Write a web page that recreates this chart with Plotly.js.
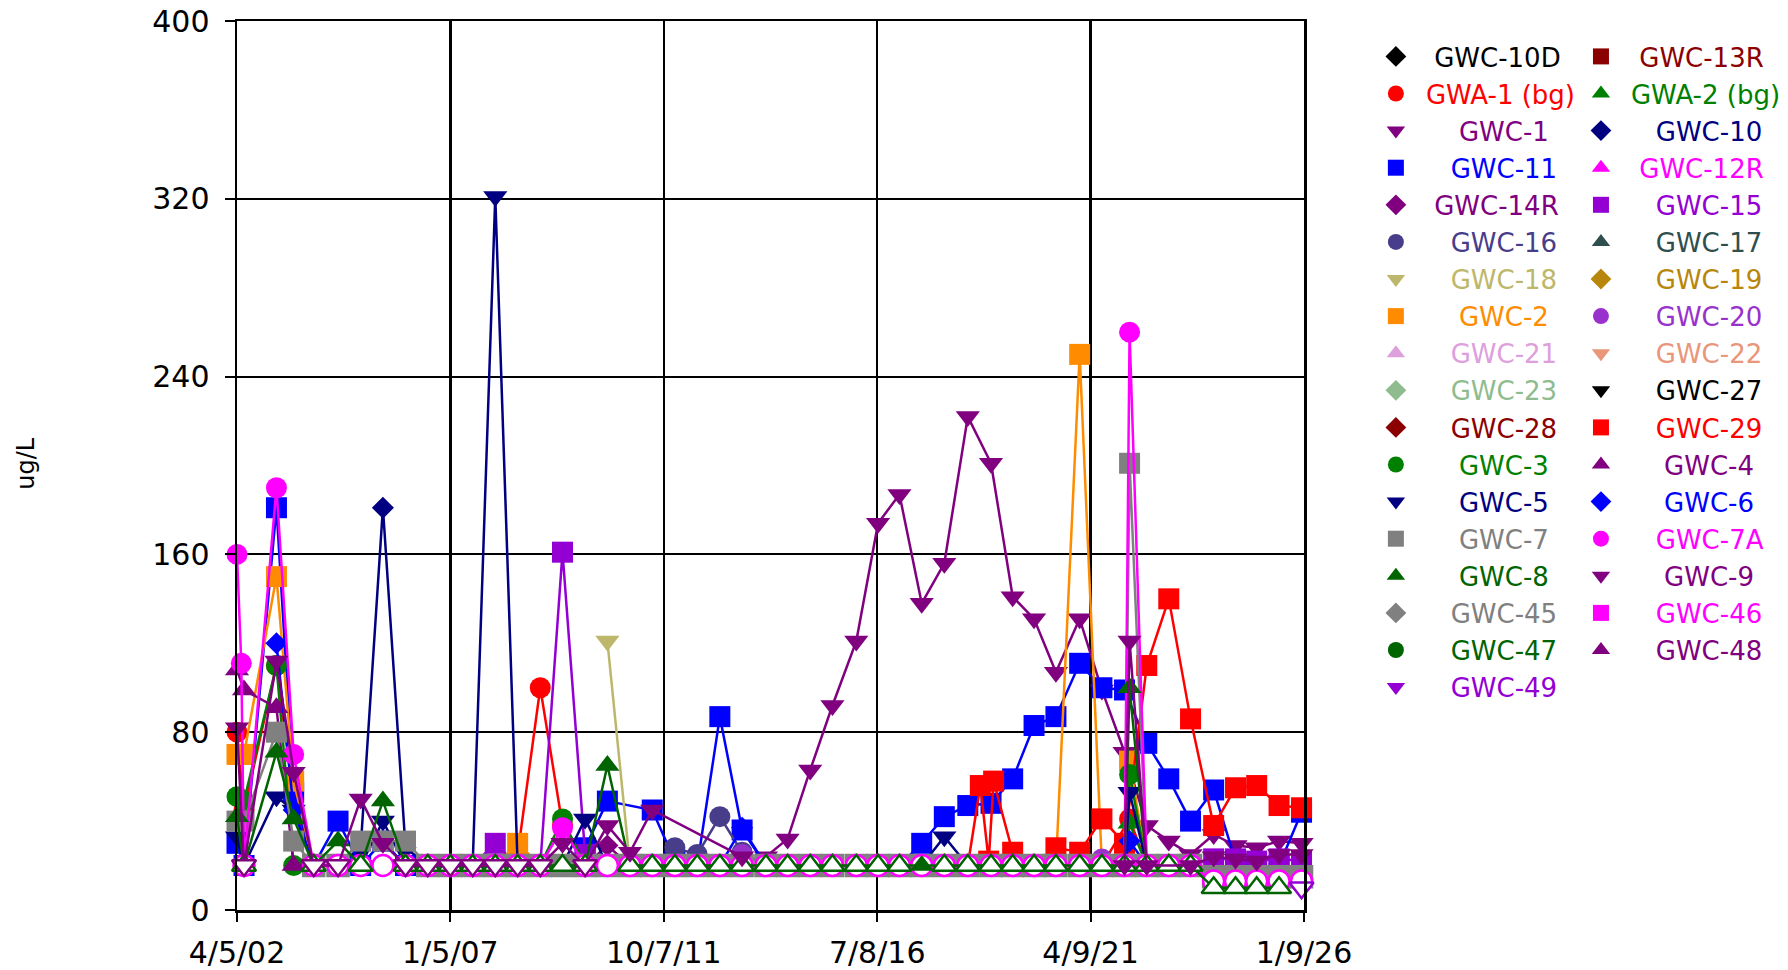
<!DOCTYPE html>
<html>
<head>
<meta charset="utf-8">
<script src="https://cdn.plot.ly/plotly-3.0.1.min.js"></script>
<style>html,body{margin:0;padding:0;background:#fff}#chart{width:1788px;height:970px}</style>
</head>
<body>
<div id="chart"></div>
<script>
// ---------------- axis / category data ----------------
const X_START = '2002-04-05';
const X_END = '2026-01-09';
const TICK_DATES = ['2002-04-05','2007-01-05','2011-10-07','2016-07-08','2021-04-09','2026-01-09'];
const TICK_LABELS = ['4/5/02','1/5/07','10/7/11','7/8/16','4/9/21','1/9/26'];
const Y_TICKS = [0, 80, 160, 240, 320, 400];

// series names (legend order, row by row), colours, marker symbols
const NAMES = ['GWC-10D','GWC-13R','GWA-1 (bg)','GWA-2 (bg)','GWC-1','GWC-10','GWC-11','GWC-12R','GWC-14R','GWC-15',
  'GWC-16','GWC-17','GWC-18','GWC-19','GWC-2','GWC-20','GWC-21','GWC-22','GWC-23','GWC-27','GWC-28','GWC-29',
  'GWC-3','GWC-4','GWC-5','GWC-6','GWC-7','GWC-7A','GWC-8','GWC-9','GWC-45','GWC-46','GWC-47','GWC-48','GWC-49'];
const COLORS = ['#000000','#8B0000','#FF0000','#008000','#800080','#000080','#0000FF','#FF00FF','#800080','#9400D3',
  '#483D8B','#2F4F4F','#BDB76B','#B8860B','#FF8C00','#9932CC','#DDA0DD','#E9967A','#8FBC8F','#000000','#8B0000','#FF0000',
  '#008000','#800080','#000080','#0000FF','#808080','#FF00FF','#006400','#800080','#808080','#FF00FF','#006400','#800080','#9400D3'];
const SYMBOLS = ['diamond','square','circle','triangle-up','triangle-down','diamond','square','triangle-up','diamond','square',
  'circle','triangle-up','triangle-down','diamond','square','circle','triangle-up','triangle-down','diamond','triangle-down','diamond','square',
  'circle','triangle-up','triangle-down','diamond','square','circle','triangle-up','triangle-down','diamond','square','circle','triangle-up','triangle-down'];

// sampling dates used by the non-detect (reporting-limit) arrays below
const GRID = ['2002-04-05','2002-06-01','2003-02-20','2003-07-10','2003-12-20','2004-07-05','2005-01-05','2005-07-05','2006-01-05','2006-07-05',
  '2007-01-05','2007-07-05','2008-01-05','2008-07-05','2009-01-05','2009-07-05','2010-01-05','2010-07-05','2011-01-05','2011-07-05',
  '2012-01-05','2012-07-05','2013-01-05','2013-07-05','2014-01-15','2014-07-10','2015-01-10','2015-07-10','2016-01-20','2016-07-15',
  '2017-01-05','2017-07-05','2018-01-05','2018-07-15','2019-01-20','2019-07-15','2020-01-05','2020-07-01','2021-01-10','2021-07-10',
  '2022-01-10','2022-07-10','2023-01-05','2023-07-01','2024-01-05','2024-07-01','2024-12-20','2025-06-20','2025-12-20'];

// ---------------- measured values, ug/L ([date, value]; null = gap in line) ----------------
const GWA_1 = [['2002-04-05',80],['2002-06-01',45],['2003-02-20',110],['2003-07-10',50],['2003-12-20',20],['2004-07-05',null],
  ['2008-01-05',20],['2008-07-05',25],['2009-01-05',100],['2009-07-05',38],['2010-01-05',20],['2010-07-05',null],
  ['2021-07-10',20],['2022-02-20',41],['2022-07-10',20]];
const GWA_2 = [['2022-01-10',20],['2022-02-20',39],['2022-07-10',20]];
const GWC_1 = [['2014-01-15',24],['2014-07-10',32],['2015-01-10',63],['2015-07-10',92],['2016-01-20',121],['2016-07-15',174],
  ['2017-01-05',187],['2017-07-05',138],['2018-01-05',156],['2018-07-15',222],['2019-01-20',201],['2019-07-15',141],
  ['2020-01-05',131],['2020-07-01',107],['2021-01-10',131],['2021-07-10',99],['2022-01-10',71],['2022-07-10',38],
  ['2023-01-05',31],['2023-07-01',25],['2024-01-05',34],['2024-07-01',29],['2024-12-20',28],['2025-06-20',31],['2025-12-20',30]];
const GWC_10 = [['2004-07-05',20],['2005-01-05',28],['2005-07-05',181],['2006-01-05',28],['2006-07-05',20]];
const GWC_11 = [['2002-04-05',30],['2002-06-01',20],['2003-02-20',181],['2003-07-10',53],['2003-12-20',20],['2004-07-05',40],
  ['2005-01-05',20],['2005-07-05',31],['2006-01-05',20],['2006-07-05',null],['2009-07-05',20],['2010-01-05',28],['2010-07-05',49],
  ['2011-07-05',45],['2012-01-05',22],['2012-07-05',20],['2013-01-05',87],['2013-07-05',36],['2014-01-15',20],['2014-07-10',null],
  ['2016-07-15',20],['2017-01-05',20],['2017-07-05',30],['2018-01-05',42],['2018-07-15',47],['2019-01-20',48],['2019-07-15',59],
  ['2020-01-05',83],['2020-07-01',87],['2021-01-10',111],['2021-07-10',100],['2022-01-10',99],['2022-07-10',75],['2023-01-05',59],
  ['2023-07-01',40],['2024-01-05',54],['2024-07-01',22],['2024-12-20',19],['2025-06-20',20],['2025-12-20',44]];
const GWC_14R = [['2010-01-05',20],['2010-07-05',29],['2011-01-05',20]];
const GWC_15 = [['2007-07-05',20],['2008-01-05',30],['2008-07-05',20],['2009-01-05',20],['2009-07-05',161],['2010-01-05',25],['2010-07-05',null],
  ['2023-07-01',20],['2024-01-05',23],['2024-07-01',23],['2024-12-20',22],['2025-06-20',23],['2025-12-20',22]];
const GWC_16 = [['2011-07-05',20],['2012-01-05',28],['2012-07-05',25],['2013-01-05',42],['2013-07-05',26],['2014-01-15',20]];
const GWC_18 = [['2010-07-05',121],['2011-01-05',20],['2011-07-05',20]];
const GWC_2 = [['2002-04-05',70],['2002-06-01',70],['2003-02-20',150],['2003-07-10',58],['2003-12-20',20],['2004-07-05',null],
  ['2007-07-05',20],['2008-01-05',20],['2008-07-05',30],['2009-01-05',20],['2009-07-05',null],
  ['2020-07-01',20],['2021-01-10',250],['2021-07-10',20],['2022-01-10',20],['2022-02-20',67],['2022-07-10',20]];
const GWC_20 = [['2013-01-05',20],['2013-07-05',25],['2014-01-15',20],['2014-07-10',null],['2021-01-10',20],['2021-07-10',23],['2022-01-10',20]];
const GWC_29 = [['2018-07-15',20],['2018-10-25',56],['2019-01-01',22],['2019-02-10',58],['2019-07-15',26],['2020-01-05',20],
  ['2020-07-01',28],['2021-01-10',26],['2021-07-10',41],['2022-01-10',30],['2022-07-10',110],['2023-01-05',140],['2023-07-01',86],
  ['2024-01-05',38],['2024-07-01',55],['2024-12-20',56],['2025-06-20',47],['2025-12-20',46]];
const GWC_3 = [['2002-04-05',51],['2002-06-01',49],['2003-02-20',110],['2003-07-10',20],['2003-12-20',null],
  ['2009-01-05',20],['2009-07-05',41],['2010-01-05',20],['2010-07-05',null],['2022-01-10',20],['2022-02-20',61],['2022-07-10',20]];
const GWC_4 = [['2002-04-05',108],['2002-06-01',99],['2003-02-20',91],['2003-07-10',20]];
const GWC_5 = [['2002-04-05',33],['2002-06-01',20],['2003-02-20',51],['2003-07-10',45],['2003-12-20',20],['2004-07-05',null],
  ['2005-01-05',20],['2005-07-05',40],['2006-01-05',20],['2006-07-05',null],['2007-07-05',20],['2008-01-05',321],['2008-07-05',20],
  ['2009-01-05',null],['2009-07-05',20],['2010-01-05',41],['2010-07-05',20],['2011-01-05',null],
  ['2017-07-05',20],['2018-01-05',33],['2018-07-15',20],['2019-01-20',null],['2022-01-10',20],['2022-02-20',53],['2022-07-10',20]];
const GWC_6 = [['2003-02-20',120],['2003-07-10',45],['2003-12-20',20],['2004-07-05',null],['2013-01-05',20],['2013-07-05',37],
  ['2014-01-15',20],['2014-07-10',null],['2022-01-10',20],['2022-02-20',31],['2022-07-10',20]];
const GWC_7 = [['2002-04-05',40],['2002-06-01',40],['2003-02-20',80],['2003-07-10',31],['2005-01-05',31],['2005-07-05',31],
  ['2006-01-05',31],['2022-02-20',201]];
const GWC_7A = [['2002-04-05',160],['2002-05-10',111],['2003-02-20',190],['2003-07-10',70],['2009-07-05',37],['2022-02-20',260]];
const GWC_8 = [['2002-04-05',42],['2003-02-20',71],['2003-07-10',41],['2004-07-05',31],['2005-07-05',49],['2010-07-05',65],
  ['2017-07-05',20],['2022-02-20',100]];
const GWC_9 = [['2002-04-05',82],['2003-02-20',112],['2003-07-10',62],['2005-01-05',50],['2005-07-05',30],['2009-07-05',30],
  ['2010-07-05',38],['2011-01-05',26],['2011-07-05',45],['2013-07-05',24],['2014-01-15',null],['2022-01-10',20],['2022-02-20',121],
  ['2022-07-10',20],['2023-07-01',20],['2024-01-05',24],['2024-07-01',23],['2024-12-20',22],['2025-06-20',25],['2025-12-20',25]];

// ---------------- non-detects at the reporting limit, aligned with GRID ----------------
const GWC_7_ND = [null,null,null,null,20,20,null,null,null,20,
  20,20,20,20,20,20,20,20,20,20,
  20,20,20,20,20,20,20,20,20,20,
  20,20,20,20,20,20,20,20,20,20,
  20,20,20,20, 15,15,15,15,15];
const GWC_7A_ND = [null,20,null,null,20,20,20,20,20,20,
  20,20,20,20,20,null,20,20,20,20,
  20,20,20,20,20,20,20,20,20,20,
  20,20,20,20,20,20,20,20,20,20,
  20,20,20,20, 13,13,13,13,13];
const GWC_8_ND = [null,20,null,null,20,null,20,null,20,20,
  20,20,20,20,20,20,20,null,20,20,
  20,20,20,20,20,20,20,20,20,20,
  20,null,20,20,20,20,20,20,20,20,
  20,20,20,20, 10,10,10,10,null];
const GWC_9_ND = [null,20,null,null,20,20,null,null,20,20,
  20,20,20,20,20,null,20,null,null,null,
  null,null,null,null,null,null,null,null,null,null,
  null,null,null,null,null,null,null,null,null,null,
  null,null,null,null, null,null,null,null,null];
const GWC_49_ND = [['2025-12-20',10]];

// ---------------- tables built from the arrays ----------------
const DETECTS = {'GWA-1 (bg)':GWA_1,'GWA-2 (bg)':GWA_2,'GWC-1':GWC_1,'GWC-10':GWC_10,'GWC-11':GWC_11,'GWC-14R':GWC_14R,
  'GWC-15':GWC_15,'GWC-16':GWC_16,'GWC-18':GWC_18,'GWC-2':GWC_2,'GWC-20':GWC_20,'GWC-29':GWC_29,'GWC-3':GWC_3,'GWC-4':GWC_4,
  'GWC-5':GWC_5,'GWC-6':GWC_6,'GWC-7':GWC_7,'GWC-7A':GWC_7A,'GWC-8':GWC_8,'GWC-9':GWC_9};
const NONDETECTS = {'GWC-7':GWC_7_ND,'GWC-7A':GWC_7A_ND,'GWC-8':GWC_8_ND,'GWC-9':GWC_9_ND,'GWC-49':GWC_49_ND};
const ND_FILL = {'GWC-7':'#808080'};
const SIZE = {'circle':21,'square':21,'triangle-up':21,'triangle-down':21,'diamond':17};

// legend labels centred within each column (text measured with the legend font)
const LEG_FONT = 26, FAMILY = 'DejaVu Sans';
const ctx = document.createElement('canvas').getContext('2d');
ctx.font = LEG_FONT + 'px "' + FAMILY + '"';
const NB = '\u00A0', nbW = ctx.measureText(NB).width;
function centred(idxs){
  const w = idxs.map(i => ctx.measureText(NAMES[i]).width);
  const W = Math.max(...w);
  const out = {};
  idxs.forEach((i,k) => { out[i] = NB.repeat(Math.max(0, Math.round((W - w[k]) / 2 / nbW))) + NAMES[i]; });
  return out;
}
const idx = NAMES.map((_,i)=>i);
const LABELS = Object.assign({}, centred(idx.filter(i=>i%2===0)), centred(idx.filter(i=>i%2===1)));

const traces = [];
NAMES.forEach((name, i) => {
  const color = COLORS[i], sym = SYMBOLS[i], size = SIZE[sym];
  const leg = (i % 2 === 0) ? 'legend' : 'legend2';
  const det = DETECTS[name] || [];
  const raw = NONDETECTS[name] || [];
  const nd = raw.length && Array.isArray(raw[0]) ? raw :
    raw.map((v,k) => [GRID[k], v]).filter(p => p[1] !== null);
  const all = det.concat(nd).sort((a,b) => a[0] < b[0] ? -1 : (a[0] > b[0] ? 1 : 0));
  if (all.length) {
    traces.push({type:'scatter', mode:'lines', x:all.map(p=>p[0]), y:all.map(p=>p[1]),
      line:{color:color, width:2.5}, connectgaps:false, showlegend:false, legend:leg, legendgroup:name, hoverinfo:'skip'});
  }
  if (nd.length) {
    traces.push({type:'scatter', mode:'markers', x:nd.map(p=>p[0]), y:nd.map(p=>p[1]), cliponaxis:false,
      marker:{symbol:sym, size:size, color:ND_FILL[name] || '#FFFFFF', line:{color:color, width:2.5}},
      showlegend:false, legend:leg, legendgroup:name, hoverinfo:'skip'});
  }
  const pts = det.filter(p => p[1] !== null);
  // a series with no detected values still gets its legend entry (one empty point keeps the trace visible)
  const px = pts.length ? pts.map(p=>p[0]) : [null];
  const py = pts.length ? pts.map(p=>p[1]) : [null];
  traces.push({type:'scatter', mode:'markers', x:px, y:py, cliponaxis:false,
    name:'<span style="color:' + color + '">' + LABELS[i] + '</span>',
    marker:{symbol:sym, size:size, color:color, line:{width:0}},
    showlegend:true, legend:leg, legendgroup:name});
});

const axisCommon = {showgrid:true, gridcolor:'#000', showline:true, linecolor:'#000', linewidth:2.5, mirror:true,
  ticks:'outside', tickcolor:'#000', tickwidth:2, zeroline:false, tickfont:{size:30, family:FAMILY, color:'#000'}};

const layout = {
  width:1788, height:970,
  margin:{l:237, r:484, t:21, b:60, pad:0, autoexpand:false},
  paper_bgcolor:'#FFFFFF', plot_bgcolor:'#FFFFFF',
  font:{family:FAMILY, color:'#000'},
  xaxis:Object.assign({}, axisCommon, {type:'date', range:[X_START, X_END], tickmode:'array', tickvals:TICK_DATES,
    ticktext:TICK_LABELS, gridwidth:2.5, ticklen:9, ticklabelstandoff:5}),
  yaxis:Object.assign({}, axisCommon, {range:[0,400], tickmode:'array', tickvals:Y_TICKS, ticktext:Y_TICKS.map(String),
    gridwidth:2, ticklen:10, ticklabelstandoff:9}),
  showlegend:true,
  legend:{x:1.058, y:0.9865, xanchor:'left', yanchor:'top', bgcolor:'rgba(0,0,0,0)', itemwidth:50, tracegroupgap:0.3,
    font:{size:LEG_FONT, family:FAMILY}, itemclick:false},
  legend2:{x:1.2502, y:0.9865, xanchor:'left', yanchor:'top', bgcolor:'rgba(0,0,0,0)', itemwidth:50, tracegroupgap:0.3,
    font:{size:LEG_FONT, family:FAMILY}, itemclick:false},
  annotations:[{text:'ug/L', xref:'paper', yref:'paper', x:0, y:0.502, xshift:-211, xanchor:'center', yanchor:'middle',
    textangle:-90, showarrow:false, font:{size:24, family:FAMILY, color:'#000'}}]
};

Plotly.newPlot('chart', traces, layout, {displayModeBar:false, staticPlot:true});
</script>
</body>
</html>
